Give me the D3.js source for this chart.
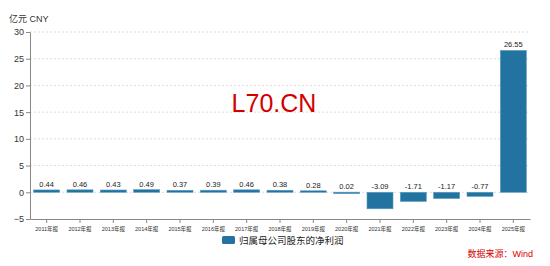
<!DOCTYPE html>
<html>
<head>
<meta charset="utf-8">
<script src="https://cdn.jsdelivr.net/npm/d3@7"></script>
<style>
  body { margin: 0; background: #fff; }
  text { font-family: "Helvetica Neue", Arial, "Liberation Sans", "Noto Sans CJK SC", sans-serif; }
</style>
</head>
<body>
<div id="chart"></div>
<script>
const width = 550;
const height = 266;

// data
const years = ["2011年报", "2012年报", "2013年报", "2014年报", "2015年报", "2016年报", "2017年报",
  "2018年报", "2019年报", "2020年报", "2021年报", "2022年报", "2023年报", "2024年报", "2025年报"];
const profit = [0.44, 0.46, 0.43, 0.49, 0.37, 0.39, 0.46, 0.38, 0.28, 0.02, -3.09, -1.71, -1.17, -0.77, 26.55];
const yTicks = [-5, 0, 5, 10, 15, 20, 25, 30];

const margin = { top: 32, right: 20, bottom: 47, left: 30 };

const svg = d3.select("#chart").append("svg")
  .attr("width", width)
  .attr("height", height);

const x = d3.scaleBand()
  .domain(years)
  .range([margin.left, width - margin.right])
  .paddingInner(0.22)
  .paddingOuter(0.11);

const y = d3.scaleLinear()
  .domain([-5, 30])
  .range([height - margin.bottom, margin.top]);

// grid lines
svg.append("g")
  .selectAll("line")
  .data(yTicks.filter(d => d !== -5))
  .join("line")
  .attr("x1", margin.left)
  .attr("x2", width - margin.right)
  .attr("y1", d => y(d))
  .attr("y2", d => y(d))
  .attr("stroke", "#ddd")
  .attr("stroke-dasharray", "2,2");

// y axis
const yAxis = svg.append("g")
  .attr("transform", `translate(${margin.left},0)`)
  .call(d3.axisLeft(y).tickValues(yTicks).tickSize(4).tickSizeOuter(0));
yAxis.select(".domain").attr("stroke", "#888");
yAxis.selectAll(".tick line").attr("stroke", "#888");
yAxis.selectAll(".tick text").attr("font-size", 9).attr("fill", "#333").attr("dx", 1);

// x axis at bottom
const xAxis = svg.append("g")
  .attr("transform", `translate(0,${y(-5)})`)
  .call(d3.axisBottom(x).tickSize(4).tickSizeOuter(0));
xAxis.select(".domain").attr("stroke", "#888");
xAxis.selectAll(".tick line").attr("stroke", "#888");
xAxis.selectAll(".tick text").attr("font-size", 5.5).attr("fill", "#333").attr("dy", "0.9em");

// bars
svg.append("g")
  .selectAll("rect")
  .data(profit)
  .join("rect")
  .attr("x", (d, i) => x(years[i]))
  .attr("width", x.bandwidth())
  .attr("y", d => y(Math.max(0, d)))
  .attr("height", d => Math.max(1.5, Math.abs(y(d) - y(0))))
  .attr("fill", "#22739f")
  .attr("stroke", "#5a9cc4")
  .attr("stroke-width", 0.6);

// value labels
svg.append("g")
  .selectAll("text")
  .data(profit)
  .join("text")
  .attr("x", (d, i) => x(years[i]) + x.bandwidth() / 2)
  .attr("y", d => y(Math.max(0, d)) - 3)
  .attr("text-anchor", "middle")
  .attr("font-size", 7.5)
  .attr("fill", "#222")
  .text(d => d.toFixed(2));

// unit label
svg.append("text")
  .attr("x", 9)
  .attr("y", 22)
  .attr("font-size", 9)
  .attr("fill", "#333")
  .text("亿元  CNY");

// watermark
svg.append("text")
  .attr("x", 274)
  .attr("y", 112)
  .attr("text-anchor", "middle")
  .attr("font-size", 25)
  .attr("fill", "#d40000")
  .text("L70.CN");

// legend
const legend = svg.append("g").attr("transform", "translate(222,236)");
legend.append("rect")
  .attr("width", 13)
  .attr("height", 8)
  .attr("rx", 1.5)
  .attr("fill", "#22739f");
legend.append("text")
  .attr("x", 17)
  .attr("y", 7.5)
  .attr("font-size", 9.5)
  .attr("fill", "#222")
  .text("归属母公司股东的净利润");

// source
svg.append("text")
  .attr("x", 533)
  .attr("y", 257)
  .attr("text-anchor", "end")
  .attr("font-size", 9)
  .attr("fill", "#d40000")
  .text("数据来源：Wind");
</script>
</body>
</html>
